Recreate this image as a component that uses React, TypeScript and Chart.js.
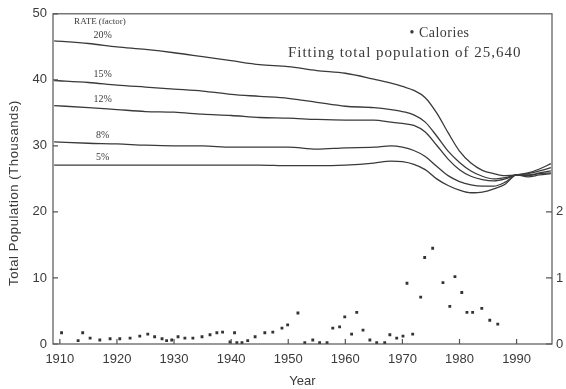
import React, { useEffect, useRef } from "react";
import { Chart, registerables } from "chart.js";
Chart.register(...registerables);

const years = [1909, 1915, 1920, 1925, 1930, 1935, 1940, 1945, 1950, 1955, 1960, 1965, 1968, 1970, 1972, 1974, 1976, 1978, 1980, 1982, 1984, 1986, 1988, 1990, 1992, 1994, 1996];
const rate20 = [45.9, 45.5, 45.0, 44.6, 44.1, 43.5, 42.9, 42.3, 42.0, 41.4, 41.0, 40.1, 39.5, 39.0, 38.4, 37.3, 35.0, 32.0, 29.2, 27.4, 26.3, 25.8, 25.5, 25.6, 25.9, 26.5, 27.3];
const rate15 = [39.9, 39.6, 39.2, 38.9, 38.6, 38.3, 37.8, 37.5, 37.2, 36.6, 36.0, 35.8, 35.5, 35.2, 34.7, 33.6, 31.5, 29.2, 27.5, 26.2, 25.4, 25.0, 25.2, 25.6, 25.8, 26.2, 26.7];
const rate12 = [36.1, 35.8, 35.5, 35.2, 35.1, 34.8, 34.6, 34.3, 34.2, 34.0, 33.9, 33.9, 33.6, 33.4, 33.1, 32.1, 30.1, 28.0, 26.4, 25.4, 24.9, 24.7, 25.0, 25.6, 25.6, 25.9, 26.2];
const rate8 = [30.6, 30.4, 30.3, 30.1, 30.0, 30.0, 29.8, 29.8, 29.8, 29.5, 29.7, 29.8, 30.0, 29.8, 29.3, 28.4, 26.9, 25.5, 24.6, 24.1, 23.9, 23.9, 24.5, 25.6, 25.5, 25.8, 25.9];
const rate5 = [27.1, 27.1, 27.1, 27.1, 27.1, 27.1, 27.1, 27.1, 27.0, 27.0, 27.1, 27.4, 27.7, 27.6, 27.2, 26.4, 25.0, 24.0, 23.3, 22.9, 23.0, 23.5, 24.2, 25.6, 25.3, 25.6, 25.8];
const rateLabels = ["20%", "15%", "12%", "8%", "5%"];

const calYears = [1910.3, 1913.2, 1914.0, 1915.3, 1917.0, 1918.8, 1920.5, 1922.3, 1924.0, 1925.4, 1926.6, 1927.9, 1928.7, 1929.6, 1930.7, 1931.9, 1933.3, 1934.9, 1936.3, 1937.5, 1938.5, 1940.6, 1939.8, 1941.0, 1941.9, 1942.9, 1944.2, 1945.9, 1947.3, 1948.9, 1949.9, 1951.7, 1952.9, 1954.3, 1955.5, 1956.8, 1957.8, 1959.0, 1959.9, 1961.1, 1962.0, 1963.1, 1964.3, 1965.5, 1966.9, 1967.8, 1969.0, 1970.1, 1971.8, 1970.8, 1973.2, 1973.9, 1975.3, 1977.1, 1979.2, 1978.3, 1980.4, 1981.3, 1982.3, 1983.9, 1985.3, 1986.7];
const calValues = [0.17, 0.05, 0.17, 0.09, 0.06, 0.08, 0.08, 0.09, 0.12, 0.15, 0.11, 0.08, 0.05, 0.06, 0.11, 0.09, 0.09, 0.11, 0.14, 0.17, 0.18, 0.17, 0.03, 0.02, 0.02, 0.05, 0.11, 0.17, 0.18, 0.24, 0.29, 0.47, 0.02, 0.06, 0.02, 0.02, 0.24, 0.26, 0.41, 0.15, 0.48, 0.21, 0.06, 0.02, 0.02, 0.14, 0.09, 0.12, 0.15, 0.92, 0.71, 1.31, 1.45, 0.93, 1.02, 0.57, 0.78, 0.48, 0.48, 0.54, 0.36, 0.30];

const decadeTicks = [1910, 1920, 1930, 1940, 1950, 1960, 1970, 1980, 1990];
const popTicks = [0, 10, 20, 30, 40, 50];
const calTicks = [0, 1, 2];

const INK = "#3a3a3a";

const decorPlugin = {
  id: "decor",
  afterDraw(chart: any) {
    const { ctx, chartArea: a, scales } = chart;
    const x = scales.x, y = scales.y, y2 = scales.y2;
    ctx.save();
    ctx.strokeStyle = "#555";
    ctx.lineWidth = 1.2;
    ctx.strokeRect(a.left, a.top, a.right - a.left, a.bottom - a.top);
    ctx.beginPath();
    decadeTicks.forEach((v) => {
      const px = x.getPixelForValue(v);
      ctx.moveTo(px, a.bottom);
      ctx.lineTo(px, a.bottom - 5);
    });
    popTicks.forEach((v) => {
      const py = y.getPixelForValue(v);
      ctx.moveTo(a.left, py);
      ctx.lineTo(a.left + 5, py);
    });
    calTicks.forEach((v) => {
      const py = y2.getPixelForValue(v);
      ctx.moveTo(a.right, py);
      ctx.lineTo(a.right - 6, py);
    });
    ctx.stroke();

    // line labels
    const series = [rate20, rate15, rate12, rate8, rate5];
    ctx.fillStyle = INK;
    ctx.font = "10px 'Liberation Serif', serif";
    ctx.textAlign = "center";
    ctx.textBaseline = "bottom";
    series.forEach((s, i) => {
      const px = x.getPixelForValue(1917.5);
      const py = y.getPixelForValue(s[1]) - 3;
      ctx.fillText(rateLabels[i], px, py);
    });
    ctx.font = "9px 'Liberation Serif', serif";
    ctx.textAlign = "left";
    ctx.textBaseline = "middle";
    ctx.fillText("RATE (factor)", x.getPixelForValue(1912.5), y.getPixelForValue(48.8));

    // legend / annotation
    ctx.textAlign = "center";
    (ctx as any).letterSpacing = "0.5px";
    ctx.font = "14px 'Liberation Serif', serif";
    ctx.fillText("\u2022 Calories", x.getPixelForValue(1976.5), y.getPixelForValue(47.0));
    (ctx as any).letterSpacing = "1px";
    ctx.font = "15px 'Liberation Serif', serif";
    ctx.fillText("Fitting total population of 25,640", x.getPixelForValue(1970.4), y.getPixelForValue(44.0));

    // y-axis title
    (ctx as any).letterSpacing = "0.6px";
    ctx.save();
    ctx.translate(14, 193);
    ctx.rotate(-Math.PI / 2);
    ctx.font = "13px 'Liberation Sans', sans-serif";
    ctx.fillText("Total Population (Thousands)", 0, 0);
    ctx.restore();
    (ctx as any).letterSpacing = "0px";
    ctx.restore();
  },
};

export default function App() {
  const ref = useRef<HTMLCanvasElement>(null);
  useEffect(() => {
    document.body.style.margin = "0";
    const mk = (vals: number[]) => years.map((yr, i) => ({ x: yr, y: vals[i] }));
    const lineDs = (vals: number[]) => ({
      type: "line" as const,
      data: mk(vals),
      borderColor: INK,
      borderWidth: 1.3,
      pointRadius: 0,
      cubicInterpolationMode: "monotone" as const,
      yAxisID: "y",
    });
    const chart = new Chart(ref.current!, {
      type: "line",
      data: {
        datasets: [
          lineDs(rate20),
          lineDs(rate15),
          lineDs(rate12),
          lineDs(rate8),
          lineDs(rate5),
          {
            type: "scatter" as const,
            data: calYears.map((yr, i) => ({ x: yr, y: calValues[i] })),
            yAxisID: "y2",
            pointStyle: "rect",
            pointRadius: 2,
            backgroundColor: "#333",
            borderColor: "#333",
            borderWidth: 0,
            showLine: false,
          } as any,
        ],
      },
      options: {
        animation: false,
        responsive: true,
        maintainAspectRatio: false,
        layout: { padding: { top: 12, left: 0, right: 0, bottom: 0 } },
        plugins: { legend: { display: false }, tooltip: { enabled: false } },
        scales: {
          x: {
            type: "linear",
            position: "bottom",
            min: 1908.8,
            max: 1996.2,
            grid: { display: false, drawTicks: false },
            border: { display: false },
            afterBuildTicks: (s: any) => {
              s.ticks = decadeTicks.map((v) => ({ value: v }));
            },
            afterFit: (s: any) => {
              s.height = 45;
            },
            ticks: {
              autoSkip: false,
              maxRotation: 0,
              padding: 8,
              color: INK,
              font: { family: "'Liberation Sans', sans-serif", size: 13 },
              callback: (v: any) => String(v),
            },
            title: {
              display: true,
              text: "Year",
              color: INK,
              font: { family: "'Liberation Sans', sans-serif", size: 13 },
              padding: { top: 2, bottom: 0 },
            },
          },
          y: {
            type: "linear",
            position: "left",
            min: 0,
            max: 50,
            grid: { display: false, drawTicks: false },
            border: { display: false },
            afterBuildTicks: (s: any) => {
              s.ticks = popTicks.map((v) => ({ value: v }));
            },
            afterFit: (s: any) => {
              s.width = 53;
            },
            ticks: {
              padding: 6,
              color: INK,
              font: { family: "'Liberation Sans', sans-serif", size: 13 },
            },
          },
          y2: {
            type: "linear",
            position: "right",
            min: 0,
            max: 5,
            grid: { display: false, drawTicks: false },
            border: { display: false },
            afterBuildTicks: (s: any) => {
              s.ticks = calTicks.map((v) => ({ value: v }));
            },
            afterFit: (s: any) => {
              s.width = 14;
            },
            ticks: {
              padding: 4,
              color: INK,
              font: { family: "'Liberation Sans', sans-serif", size: 13 },
            },
          },
        },
      },
      plugins: [decorPlugin],
    });
    return () => chart.destroy();
  }, []);
  return (
    <div style={{ position: "absolute", left: 0, top: 0, width: 566, height: 389, background: "#fff" }}>
      <canvas ref={ref} />
    </div>
  );
}
